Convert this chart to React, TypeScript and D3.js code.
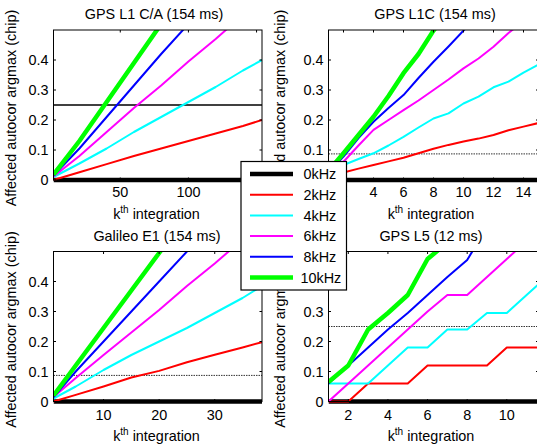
import React from 'react';
import * as d3 from 'd3';

// ---------- data ----------
const legendLabels = ['0kHz', '2kHz', '4kHz', '6kHz', '8kHz', '10kHz'];
const seriesColors = ['#000000', '#ff0000', '#00ffff', '#ff00ff', '#0000ff', '#00ff00'];
const titles = ['GPS L1 C/A (154 ms)', 'GPS L1C (154 ms)', 'Galileo E1 (154 ms)', 'GPS L5 (12 ms)'];
const yTicks = [0, 0.1, 0.2, 0.3, 0.4];
const thresholds = [0.25, 0.087, 0.087, 0.25];

// GPS L1 C/A
const l1caK = [1, 20, 40, 60, 80, 100, 120, 140, 154];
const l1ca0 = [0, 0, 0, 0, 0, 0, 0, 0, 0];
const l1ca2 = [0.0, 0.026, 0.053, 0.08, 0.105, 0.13, 0.155, 0.18, 0.2];
const l1ca4 = [0.01, 0.055, 0.105, 0.16, 0.21, 0.26, 0.31, 0.365, 0.4];
const l1ca6 = [0.012, 0.08, 0.16, 0.24, 0.315, 0.395, 0.47, 0.55, null];
const l1ca8 = [0.015, 0.105, 0.21, 0.315, 0.42, 0.52, null, null, null];
const l1ca10 = [0.018, 0.13, 0.26, 0.39, 0.52, null, null, null, null];
const l1caTicks = [50, 100, 150];

// GPS L1C
const l1cK = [1, 2, 3, 4, 5, 6, 7, 8, 9, 10, 11, 12, 13, 14, 15];
const l1c0 = [0, 0, 0, 0, 0, 0, 0, 0, 0, 0, 0, 0, 0, 0, 0];
const l1c2 = [0.012, 0.025, 0.038, 0.05, 0.062, 0.074, 0.089, 0.104, 0.117, 0.128, 0.138, 0.15, 0.166, 0.178, 0.19];
const l1c4 = [0.03, 0.05, 0.07, 0.089, 0.115, 0.144, 0.175, 0.205, 0.222, 0.255, 0.278, 0.309, 0.328, 0.358, 0.385];
const l1c6 = [0.03, 0.061, 0.115, 0.167, 0.2, 0.233, 0.265, 0.3, 0.335, 0.372, 0.405, 0.444, 0.49, 0.53, null];
const l1c8 = [0.025, 0.078, 0.14, 0.194, 0.24, 0.283, 0.34, 0.394, 0.445, 0.498, 0.55, null, null, null, null];
const l1c10 = [0.03, 0.089, 0.15, 0.211, 0.28, 0.356, 0.42, 0.498, 0.56, null, null, null, null, null, null];
const l1cTicks = [2, 4, 6, 8, 10, 12, 14];

// Galileo E1
const e1K = [1, 5, 10, 15, 20, 25, 30, 35, 38.5];
const e10 = [0, 0, 0, 0, 0, 0, 0, 0, 0];
const e12 = [0, 0.022, 0.05, 0.08, 0.102, 0.131, 0.156, 0.18, 0.198];
const e14 = [0.01, 0.05, 0.105, 0.155, 0.2, 0.245, 0.295, 0.345, 0.385];
const e16 = [0.015, 0.078, 0.155, 0.23, 0.305, 0.385, 0.46, 0.54, null];
const e18 = [0.015, 0.1, 0.2, 0.3, 0.4, 0.5, 0.6, null, null];
const e110 = [0.02, 0.12, 0.245, 0.37, 0.495, 0.62, null, null, null];
const e1Ticks = [10, 20, 30];

// GPS L5
const l5K = [1, 2, 3, 4, 5, 6, 7, 8, 9, 10, 11, 12];
const l50 = [0, 0, 0, 0, 0, 0, 0, 0, 0, 0, 0, 0];
const l52 = [0, 0, 0.06, 0.06, 0.06, 0.12, 0.12, 0.12, 0.12, 0.18, 0.18, 0.18];
const l54 = [0.06, 0.06, 0.06, 0.12, 0.18, 0.18, 0.24, 0.24, 0.295, 0.295, 0.355, 0.415];
const l56 = [0, 0.06, 0.12, 0.18, 0.24, 0.3, 0.355, 0.355, 0.415, 0.475, 0.535, null];
const l58 = [0.06, 0.12, 0.18, 0.24, 0.295, 0.355, 0.415, 0.472, 0.58, null, null, null];
const l510 = [0.065, 0.12, 0.24, 0.295, 0.355, 0.475, 0.53, null, null, null, null, null];
const l5Ticks = [2, 4, 6, 8, 10];

// ---------- layout ----------
const FONT = '"Liberation Sans", Arial, Helvetica, sans-serif';
const FS = 14.4;

const panels = [
  { title: titles[0], k: l1caK, series: [l1ca0, l1ca2, l1ca4, l1ca6, l1ca8, l1ca10], xTicks: l1caTicks,
    domain: [1, 154], x0: 53.5, x1: 262, y0: 30, y1: 180, thr: thresholds[0], thrSolid: true, titleX: 154, labX: 156.5, ylabX: 15.5 },
  { title: titles[1], k: l1cK, series: [l1c0, l1c2, l1c4, l1c6, l1c8, l1c10], xTicks: l1cTicks,
    domain: [1, 15], x0: 328.5, x1: 538.5, y0: 30, y1: 180, thr: thresholds[1], thrSolid: false, titleX: 435, labX: 431, ylabX: 285 },
  { title: titles[2], k: e1K, series: [e10, e12, e14, e16, e18, e110], xTicks: e1Ticks,
    domain: [1, 38.5], x0: 53.5, x1: 262, y0: 251.5, y1: 401.5, thr: thresholds[2], thrSolid: false, titleX: 157, labX: 156.5, ylabX: 15.5 },
  { title: titles[3], k: l5K, series: [l50, l52, l54, l56, l58, l510], xTicks: l5Ticks,
    domain: [1, 11.6], x0: 328.5, x1: 538.5, y0: 251.5, y1: 401.5, thr: thresholds[3], thrSolid: false, titleX: 431, labX: 431, ylabX: 285 },
];

const widths = [4.5, 2, 2, 2, 2, 4.5];

function Panel({ p, idx }: { p: any; idx: number }) {
  const x = d3.scaleLinear().domain(p.domain).range([p.x0, p.x1]);
  const y = d3.scaleLinear().domain([0, 0.5]).range([p.y1, p.y0]);
  const clipId = `clip${idx}`;
  const tl = 2.5;
  const top = p.y0 === 30;
  const tickBase = top ? 197 : 419.5;
  const labBase = top ? 218.5 : 440.5;
  const titleBase = top ? 19 : 241;
  const yc = (p.y0 + p.y1) / 2 + 3;
  return (
    <g>
      <defs>
        <clipPath id={clipId}>
          <rect x={p.x0} y={p.y0} width={p.x1 - p.x0} height={p.y1 - p.y0 + 4} />
        </clipPath>
      </defs>
      <rect x={p.x0} y={p.y0} width={p.x1 - p.x0} height={p.y1 - p.y0} fill="#fff" />
      <line x1={p.x0} x2={p.x1} y1={y(p.thr)} y2={y(p.thr)}
        stroke={p.thrSolid ? '#000' : '#333'} strokeWidth={p.thrSolid ? 1.6 : 1}
        strokeDasharray={p.thrSolid ? undefined : '1.5 1'} />
      <g clipPath={`url(#${clipId})`}>
        {p.series.map((s: (number | null)[], i: number) => {
          const line = d3.line<number>()
            .defined((_, j) => s[j] != null)
            .x((_, j) => x(p.k[j]))
            .y((_, j) => y(s[j] as number));
          return (
            <path key={i} d={line(p.k) || ''} fill="none" stroke={seriesColors[i]}
              strokeWidth={widths[i]} strokeLinejoin="round" strokeLinecap="butt" />
          );
        })}
      </g>
      <rect x={p.x0} y={p.y0} width={p.x1 - p.x0} height={p.y1 - p.y0} fill="none" stroke="#000" strokeWidth={1} />
      {p.xTicks.map((t: number) => (
        <g key={'x' + t}>
          <line x1={x(t)} x2={x(t)} y1={p.y1} y2={p.y1 - tl} stroke="#000" strokeWidth={1} />
          <line x1={x(t)} x2={x(t)} y1={p.y0} y2={p.y0 + tl} stroke="#000" strokeWidth={1} />
          <text x={x(t)} y={tickBase} textAnchor="middle" fontFamily={FONT} fontSize={FS} fill="#000">{t}</text>
        </g>
      ))}
      {yTicks.map((t) => (
        <g key={'y' + t}>
          <line x1={p.x0} x2={p.x0 + tl} y1={y(t)} y2={y(t)} stroke="#000" strokeWidth={1} />
          <line x1={p.x1} x2={p.x1 - tl} y1={y(t)} y2={y(t)} stroke="#000" strokeWidth={1} />
          <text x={p.x0 - 5} y={y(t)} dy="0.36em" textAnchor="end" fontFamily={FONT} fontSize={FS} fill="#000">{String(t)}</text>
        </g>
      ))}
      <text x={p.titleX} y={titleBase} textAnchor="middle" fontFamily={FONT} fontSize={FS} fill="#000">{p.title}</text>
      <text x={p.labX} y={labBase} textAnchor="middle" fontFamily={FONT} fontSize={FS} fill="#000">
        k<tspan fontSize={10} dy={-6}>th</tspan><tspan dy={6}> integration</tspan>
      </text>
      <text transform={`translate(${p.ylabX},${yc}) rotate(-90)`} textAnchor="middle" fontFamily={FONT} fontSize={FS} fill="#000">
        Affected autocor argmax (chip)
      </text>
    </g>
  );
}

function Legend() {
  const lx = 241, ly = 161.5, lw = 105.5, lh = 128.5;
  return (
    <g>
      <rect x={lx} y={ly} width={lw} height={lh} fill="#fff" stroke="#000" strokeWidth={1.2} />
      {legendLabels.map((lab, i) => {
        const yy = 174 + i * 20.7;
        return (
          <g key={lab}>
            <line x1={250} x2={293} y1={yy} y2={yy} stroke={seriesColors[i]} strokeWidth={widths[i]} />
            <text x={i === 5 ? 300.5 : 303.5} y={yy} dy="0.36em" fontFamily={FONT} fontSize={FS} fill="#000">{lab}</text>
          </g>
        );
      })}
    </g>
  );
}

export default function App() {
  return (
    <svg width={537} height={448} style={{ position: 'absolute', left: 0, top: 0, background: '#fff' }}>
      <rect x={0} y={0} width={537} height={448} fill="#fff" />
      {panels.map((p, i) => (
        <Panel key={i} p={p} idx={i} />
      ))}
      <Legend />
    </svg>
  );
}
